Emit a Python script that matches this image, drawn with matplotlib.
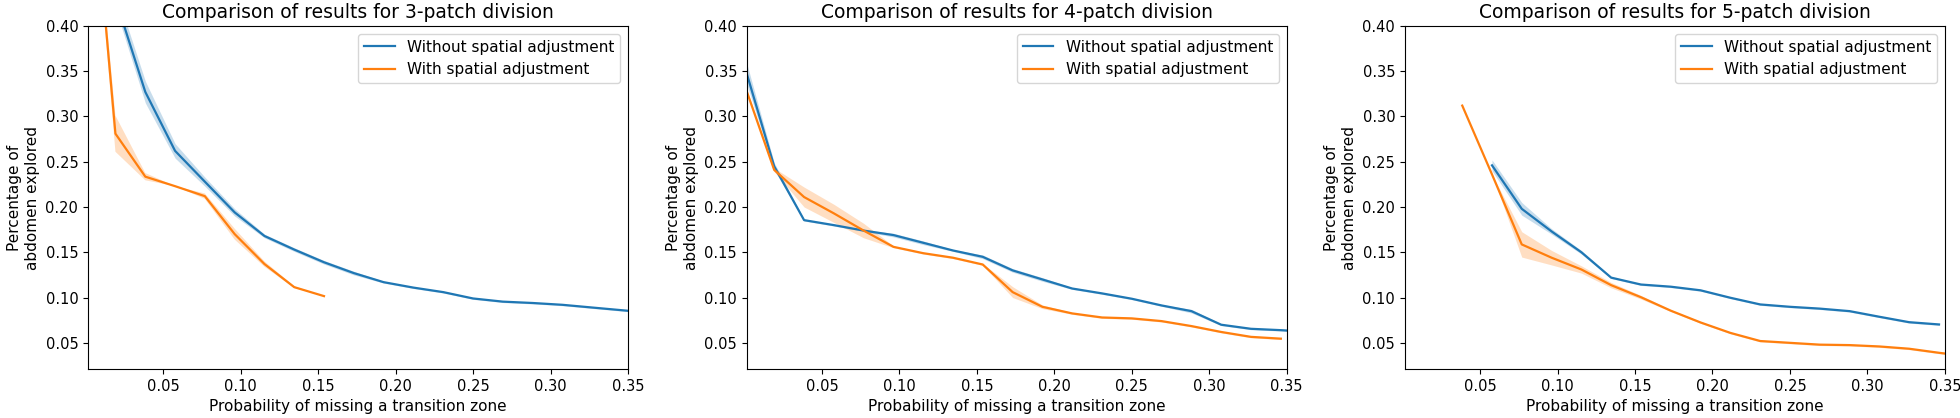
import numpy as np
import matplotlib
matplotlib.use("Agg")
import matplotlib.pyplot as plt

# probability grid (steps of 1/52)
x_grid = [0.0, 0.0192, 0.0385, 0.0577, 0.0769, 0.0962, 0.1154, 0.1346, 0.1538, 0.1731,
          0.1923, 0.2115, 0.2308, 0.25, 0.2692, 0.2885, 0.3077, 0.3269, 0.3462, 0.3654]

titles = ["Comparison of results for 3-patch division",
          "Comparison of results for 4-patch division",
          "Comparison of results for 5-patch division"]

# 3-patch
p3_blue_start = 1
p3_blue = [0.43, 0.327, 0.262, 0.228, 0.194, 0.168, 0.153, 0.139, 0.127, 0.117,
           0.111, 0.106, 0.099, 0.0955, 0.094, 0.092, 0.089, 0.086, 0.083]
p3_blue_err = [0.010, 0.012, 0.008, 0.005, 0.004, 0.002, 0.002, 0.002, 0.002, 0.001,
               0.001, 0.001, 0.001, 0.001, 0.001, 0.001, 0.001, 0.001, 0.001]
p3_orange_start = 0
p3_orange = [0.65, 0.281, 0.2335, 0.223, 0.212, 0.170, 0.137, 0.1115, 0.1016]
p3_orange_err = [0.0, 0.02, 0.004, 0.0, 0.003, 0.006, 0.003, 0.001, 0.0]

# 4-patch
p4_blue_start = 0
p4_blue = [0.356, 0.245, 0.1855, 0.180, 0.174, 0.169, 0.1605, 0.152, 0.145, 0.130,
           0.120, 0.110, 0.1046, 0.0987, 0.0913, 0.085, 0.070, 0.0655, 0.064, 0.062]
p4_blue_err = [0.012, 0.004, 0.001, 0.001, 0.001, 0.002, 0.002, 0.001, 0.002, 0.002,
               0.002, 0.001, 0.001, 0.001, 0.001, 0.002, 0.001, 0.001, 0.001, 0.001]
p4_orange_start = 0
p4_orange = [0.335, 0.241, 0.211, 0.193, 0.174, 0.156, 0.149, 0.144, 0.1365, 0.106,
             0.0898, 0.0825, 0.078, 0.077, 0.074, 0.0685, 0.062, 0.0566, 0.0546]
p4_orange_err = [0.002, 0.002, 0.011, 0.010, 0.008, 0.001, 0.001, 0.001, 0.001, 0.006,
                 0.002, 0.001, 0.001, 0.001, 0.001, 0.001, 0.001, 0.001, 0.001]

# 5-patch
p5_blue_start = 3
p5_blue = [0.246, 0.198, 0.173, 0.150, 0.122, 0.1144, 0.112, 0.108, 0.0998, 0.0924,
           0.0898, 0.0878, 0.085, 0.0788, 0.0728, 0.0703]
p5_blue_err = [0.006, 0.007, 0.003, 0.002, 0.001, 0.001, 0.001, 0.001, 0.001, 0.001,
               0.001, 0.001, 0.001, 0.001, 0.001, 0.001]
p5_orange_start = 2
p5_orange = [0.312, 0.236, 0.1587, 0.144, 0.131, 0.1137, 0.1004, 0.0855, 0.0725, 0.061,
             0.052, 0.050, 0.048, 0.0475, 0.046, 0.0435, 0.039, 0.035]
p5_orange_err = [0.0, 0.0, 0.014, 0.008, 0.004, 0.003, 0.002, 0.001, 0.001, 0.001,
                 0.001, 0.001, 0.001, 0.001, 0.001, 0.001, 0.001, 0.001]

panels = [
    (p3_blue_start, p3_blue, p3_blue_err, p3_orange_start, p3_orange, p3_orange_err),
    (p4_blue_start, p4_blue, p4_blue_err, p4_orange_start, p4_orange, p4_orange_err),
    (p5_blue_start, p5_blue, p5_blue_err, p5_orange_start, p5_orange, p5_orange_err),
]

blue = "#1f77b4"
orange = "#ff7f0e"

fig = plt.figure(figsize=(19.6, 4.18), dpi=100)
lefts = [0.0449, 0.381, 0.7168]

for i, (bs, by, be, os_, oy, oe) in enumerate(panels):
    ax = fig.add_axes([lefts[i], 0.117, 0.2755, 0.821])
    bx = np.array(x_grid[bs:bs + len(by)])
    by = np.array(by); be = np.array(be)
    ox = np.array(x_grid[os_:os_ + len(oy)])
    oy = np.array(oy); oe = np.array(oe)
    ax.plot(bx, by, color=blue, lw=1.6, label="Without spatial adjustment")
    ax.fill_between(bx, by - be, by + be, color=blue, alpha=0.25, lw=0)
    ax.plot(ox, oy, color=orange, lw=1.6, label="With spatial adjustment")
    ax.fill_between(ox, oy - oe, oy + oe, color=orange, alpha=0.25, lw=0)
    ax.set_xlim(0.0015, 0.35)
    ax.set_ylim(0.021, 0.40)
    ax.set_xticks([0.05, 0.10, 0.15, 0.20, 0.25, 0.30, 0.35])
    ax.set_yticks([0.05, 0.10, 0.15, 0.20, 0.25, 0.30, 0.35, 0.40])
    ax.tick_params(labelsize=10.5)
    ax.set_title(titles[i], fontsize=13.5)
    ax.set_xlabel("Probability of missing a transition zone", fontsize=11)
    ax.set_ylabel("Percentage of\nabdomen explored", fontsize=11)
    ax.legend(loc="upper right", fontsize=11)

fig.savefig("out.png", dpi=100)
